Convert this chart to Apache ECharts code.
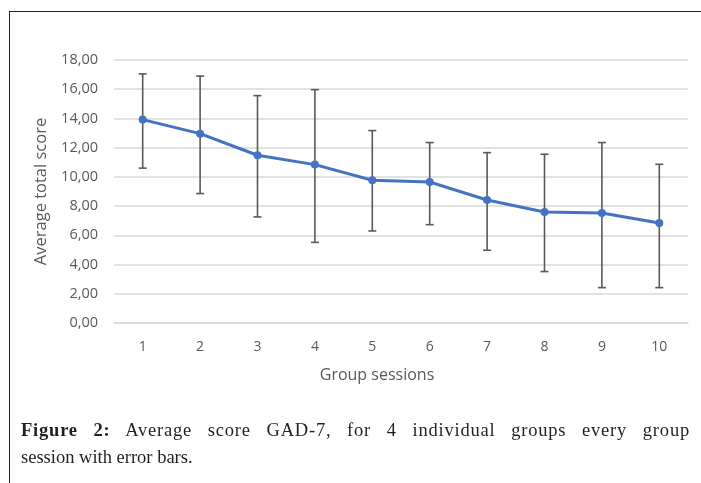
<!DOCTYPE html>
<html>
<head>
<meta charset="utf-8">
<script src="https://cdn.jsdelivr.net/npm/echarts@6/dist/echarts.min.js"></script>
<style>
  html, body { margin: 0; padding: 0; background: #fff; }
  #wrap { position: relative; width: 701px; height: 483px; overflow: hidden; }
  #chart { position: absolute; left: 0; top: 0; width: 701px; height: 483px; }
  #frame {
    position: absolute; left: 9px; top: 11px; width: 700px; height: 480px;
    border-left: 1.5px solid #222; border-top: 1.5px solid #222;
  }
  #caption {
    position: absolute; left: 21px; top: 417px; width: 669px;
    font-family: "Liberation Serif", serif; font-size: 18.5px; line-height: 27px;
    color: #231f20;
  }
  #caption .l1 { text-align: justify; text-align-last: justify; letter-spacing: 0.8px; }
</style>
</head>
<body>
<div id="wrap">
  <div id="chart"></div>
  <div id="frame"></div>
  <div id="caption">
    <div class="l1"><b>Figure 2:</b> Average score GAD-7, for 4 individual groups every group</div>
    <div>session with error bars.</div>
  </div>
</div>
<script>
const sessions = ['1', '2', '3', '4', '5', '6', '7', '8', '9', '10']
// mean score per session
const means = [13.92, 12.96, 11.48, 10.84, 9.77, 9.65, 8.42, 7.6, 7.53, 6.84]
// error bar ends
const upper = [17.05, 16.9, 15.56, 15.97, 13.17, 12.35, 11.66, 11.55, 12.35, 10.86]
const lower = [10.6, 8.86, 7.26, 5.52, 6.3, 6.73, 4.98, 3.52, 2.42, 2.42]

const chart = echarts.init(document.getElementById('chart'))

const errData = sessions.map((s, i) => [i, lower[i], upper[i]])
const fontFam = '"Open Sans", sans-serif'

chart.setOption({
  animation: false,
  grid: { left: 114, right: 13, top: 60, bottom: 160 },
  xAxis: {
    type: 'category',
    data: sessions,
    name: 'Group sessions',
    nameLocation: 'middle',
    nameGap: 44,
    // excel centres the title on the chart area, not the plot
    nameTextStyle: { color: '#595959', fontSize: 16, fontFamily: fontFam, padding: [0, 48, 0, 0] },
    axisLine: { lineStyle: { color: '#d9d9d9', width: 1.5 } },
    axisTick: { show: false },
    axisLabel: { color: '#595959', fontSize: 14, fontFamily: fontFam, margin: 17 }
  },
  yAxis: {
    type: 'value',
    min: 0,
    max: 18,
    interval: 2,
    name: 'Average total score',
    nameLocation: 'middle',
    nameGap: 64,
    nameTextStyle: { color: '#595959', fontSize: 16.5, fontFamily: fontFam },
    axisLine: { show: false },
    axisTick: { show: false },
    axisLabel: {
      color: '#595959', fontSize: 14.5, fontFamily: fontFam, margin: 16,
      formatter: v => v.toFixed(2).replace('.', ',')
    },
    splitLine: { lineStyle: { color: '#d9d9d9', width: 1.5 } }
  },
  series: [
    {
      type: 'custom',
      data: errData,
      z: 1,
      renderItem: (params, api) => {
        const x = api.value(0)
        const lo = api.coord([x, api.value(1)])
        const hi = api.coord([x, api.value(2)])
        const w = 4
        const style = { stroke: '#595959', lineWidth: 1.6 }
        return {
          type: 'group',
          children: [
            { type: 'line', shape: { x1: hi[0], y1: hi[1], x2: lo[0], y2: lo[1] }, style },
            { type: 'line', shape: { x1: hi[0] - w, y1: hi[1], x2: hi[0] + w, y2: hi[1] }, style },
            { type: 'line', shape: { x1: lo[0] - w, y1: lo[1], x2: lo[0] + w, y2: lo[1] }, style }
          ]
        }
      }
    },
    {
      type: 'line',
      data: means,
      z: 2,
      symbol: 'circle',
      symbolSize: 8,
      lineStyle: { color: '#4472C4', width: 3 },
      itemStyle: { color: '#4472C4' }
    }
  ]
})
</script>
</body>
</html>
